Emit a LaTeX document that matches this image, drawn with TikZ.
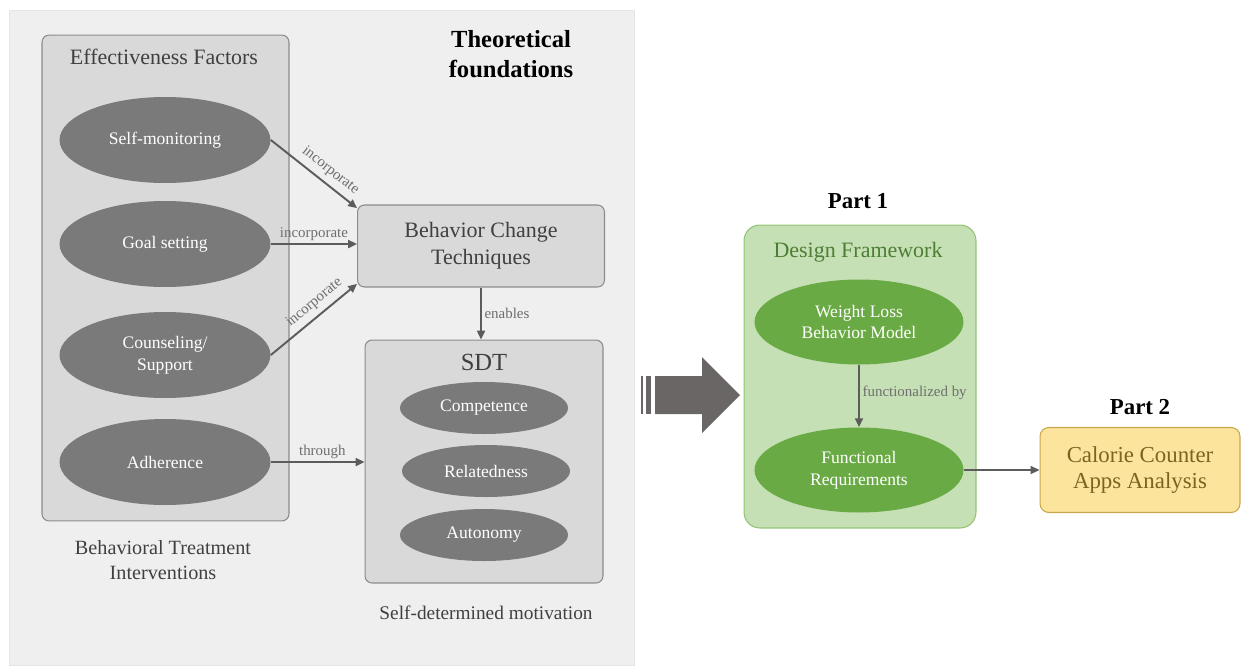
\documentclass[tikz,border=0pt]{standalone}
\usepackage{fontspec}
\setmainfont{Liberation Serif}
\usetikzlibrary{shapes.geometric,arrows.meta}
\definecolor{panelgray}{HTML}{EFEFEF}
\definecolor{boxgray}{HTML}{D9D9D9}
\definecolor{boxline}{HTML}{8C8C8C}
\definecolor{ellgray}{HTML}{7A7A7A}
\definecolor{arrowgray}{HTML}{5C5C5C}
\definecolor{labelgray}{HTML}{6E6E6E}
\definecolor{titlegray}{HTML}{404040}
\definecolor{dffill}{HTML}{C6E0B5}
\definecolor{dfline}{HTML}{93C374}
\definecolor{ellgreen}{HTML}{6AAA45}
\definecolor{dftext}{HTML}{4E7D35}
\definecolor{ccfill}{HTML}{FCE49C}
\definecolor{ccline}{HTML}{C9A64C}
\definecolor{cctext}{HTML}{7A6420}
\definecolor{bigarrow}{HTML}{6A6666}
\def\fsz#1#2{\fontsize{#1}{#2}\selectfont}

\begin{document}
\begin{tikzpicture}[x=0.02cm,y=-0.02cm,
	box/.style={draw=boxline, fill=boxgray, rounded corners=4pt, line width=0.6pt},
	grayell/.style={ellipse, fill=ellgray, text=white, inner sep=0pt, align=center, font=\fsz{10}{12.5}},
	greenell/.style={ellipse, fill=ellgreen, text=white, inner sep=0pt, align=center, font=\fsz{10}{12.5}},
	conn/.style={draw=arrowgray, line width=1.1pt, -{Triangle[length=5pt,width=4.5pt]}},
	lbl/.style={text=labelgray, font=\fsz{8.5}{10}, inner sep=1.5pt},
	ttl/.style={text=titlegray, align=center}]
	%%%%% START %%%%%
	
	\useasboundingbox (0, 0) rectangle (1244, 667);
	\draw[fill=panelgray, draw=black!10, line width=0.4pt] (9, 10) rectangle (634, 665);
	
	% left column
	\node[box, minimum width=4.94cm, minimum height=9.72cm] (effbox) at (165.5, 278) {};
	\node[ttl, font=\fsz{12.5}{15}] (efftitle) at (164, 57) {Effectiveness Factors};
	\node[grayell, minimum width=4.22cm, minimum height=1.72cm] (selfmon) at (165, 140) {Self-monitoring};
	\node[grayell, minimum width=4.22cm, minimum height=1.72cm] (goalset) at (165, 244) {Goal setting};
	\node[grayell, minimum width=4.22cm, minimum height=1.72cm] (counsel) at (165, 355) {Counseling/\\Support};
	\node[grayell, minimum width=4.22cm, minimum height=1.72cm] (adhere) at (165, 462) {Adherence};
	\node[ttl, font=\fsz{11.5}{14}] (behtreat) at (163, 560) {Behavioral Treatment\\Interventions};
	
	\node[ttl, font=\bfseries\fsz{14}{17.5}, text=black] (theory) at (511, 54) {Theoretical\\foundations};
	
	% middle column
	\node[box, minimum width=4.94cm, minimum height=1.64cm, ttl, font=\fsz{12.5}{15.3}] (bct) at (481, 246) {Behavior Change\\Techniques};
	\node[box, minimum width=4.76cm, minimum height=4.86cm] (sdtbox) at (484, 461.5) {};
	\node[ttl, font=\fsz{14}{16}] (sdttitle) at (484, 362) {SDT};
	\node[grayell, minimum width=3.36cm, minimum height=1.04cm] (compet) at (484, 408) {Competence};
	\node[grayell, minimum width=3.36cm, minimum height=1.04cm] (relate) at (486, 471) {Relatedness};
	\node[grayell, minimum width=3.36cm, minimum height=1.04cm] (auton) at (484, 535) {Autonomy};
	\node[ttl, font=\fsz{11}{13}] (selfdet) at (486, 613) {Self-determined motivation};
	
	\draw[conn] (selfmon.east) -- (bct.163) node[lbl, pos=0.6, sloped, above, inner sep=3pt] {incorporate};
	\draw[conn] (goalset.east) -- (bct.west |- goalset.east) node[lbl, midway, above] {incorporate};
	\draw[conn] (counsel.east) -- (bct.197) node[lbl, pos=0.6, sloped, above, inner sep=3pt] {incorporate};
	\draw[conn] (adhere.east) -- (sdtbox.west |- adhere.east) node[lbl, pos=0.55, above] {through};
	\draw[conn] (bct.south) -- (bct.south |- sdtbox.north) node[lbl, midway, right] {enables};
	
	% big arrow
	\fill[bigarrow] (655, 376) -- (702, 376) -- (702, 357) -- (740, 395) -- (702, 433) -- (702, 414) -- (655, 414) -- cycle;
	\fill[bigarrow] (646, 376) rectangle (650.7, 414);
	\fill[bigarrow] (640.7, 376) rectangle (643.3, 414);
	
	% part 1
	\node[font=\bfseries\fsz{13}{15}] (part1) at (858, 201) {Part 1};
	\node[draw=dfline, fill=dffill, rounded corners=9pt, line width=0.6pt, minimum width=4.64cm, minimum height=6.06cm] (dfbox) at (860, 376.5) {};
	\node[text=dftext, font=\fsz{12.5}{15}] (dftitle) at (858, 252) {Design Framework};
	\node[greenell, minimum width=4.18cm, minimum height=1.70cm] (wlmodel) at (859, 322) {Weight Loss\\Behavior Model};
	\node[greenell, minimum width=4.18cm, minimum height=1.70cm] (funcreq) at (859, 470) {Functional\\Requirements};
	\draw[conn] (wlmodel.south) -- (funcreq.north) node[lbl, midway, right, yshift=2pt] {functionalized by};
	
	% part 2
	\node[font=\bfseries\fsz{13}{15}] (part2) at (1140, 407) {Part 2};
	\node[draw=ccline, fill=ccfill, rounded corners=5pt, line width=0.6pt, minimum width=4.0cm, minimum height=1.7cm, text=cctext, align=center, font=\fsz{13}{14.8}] (calorie) at (1140, 470) {Calorie Counter\\Apps Analysis};
	\draw[conn, line width=0.9pt] (funcreq.east) -- (calorie.west |- funcreq.east);
	
	%%%%% END %%%%%
\end{tikzpicture}
\end{document}
